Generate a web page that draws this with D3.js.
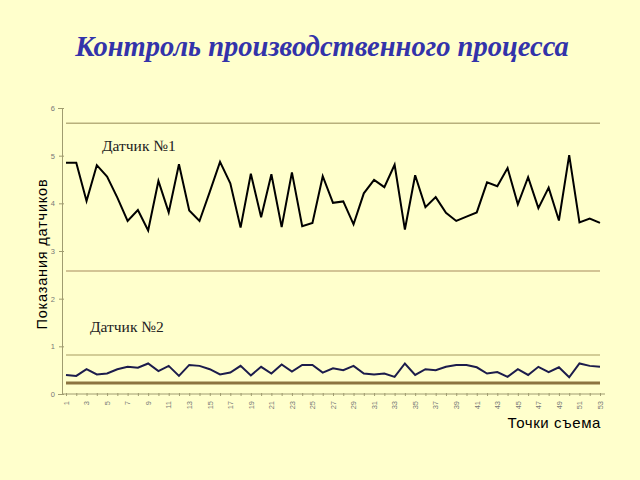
<!DOCTYPE html>
<html>
<head>
<meta charset="utf-8">
<script src="https://cdn.jsdelivr.net/npm/d3@7/dist/d3.min.js"></script>
<style>
html,body{margin:0;padding:0;background:#FFFFCC;}
svg{display:block;}
</style>
</head>
<body>
<script>
const categories = d3.range(1, 54);
const sensor1 = [4.85,4.85,4.05,4.80,4.56,4.12,3.63,3.86,3.43,4.47,3.81,4.82,3.85,3.63,4.24,4.87,4.42,3.49,4.62,3.71,4.61,3.50,4.65,3.52,3.59,4.57,4.01,4.04,3.56,4.21,4.49,4.34,4.81,3.45,4.59,3.92,4.13,3.80,3.63,3.72,3.81,4.44,4.36,4.74,3.98,4.55,3.90,4.33,3.64,5.01,3.60,3.68,3.59];
const sensor2 = [0.40,0.38,0.52,0.41,0.43,0.52,0.57,0.55,0.64,0.48,0.59,0.38,0.61,0.59,0.52,0.41,0.45,0.59,0.39,0.57,0.43,0.62,0.47,0.61,0.61,0.45,0.54,0.50,0.59,0.43,0.41,0.43,0.36,0.64,0.40,0.52,0.50,0.57,0.61,0.61,0.56,0.43,0.46,0.36,0.52,0.40,0.57,0.46,0.56,0.35,0.64,0.59,0.57];
const limits = [5.68, 2.58, 0.82, 0.23];
const yTicks = [0,1,2,3,4,5,6];
const xTickLabels = categories.filter(d => d % 2 === 1);
const title = "Контроль производственного процесса";
const yTitle = "Показания датчиков";
const xTitle = "Точки съема";
const seriesNames = ["Датчик №1", "Датчик №2"];

const W = 640, H = 480;
const svg = d3.select("body").append("svg").attr("width", W).attr("height", H);
svg.append("rect").attr("width", W).attr("height", H).attr("fill", "#FFFFCC");

const x = d3.scalePoint().domain(categories).range([66, 600]);
const y = d3.scaleLinear().domain([0, 6]).range([394, 108]);

svg.append("text").attr("x", 322).attr("y", 56).attr("text-anchor", "middle")
  .attr("font-family", "Liberation Serif, Times New Roman, serif")
  .attr("font-style", "italic").attr("font-weight", "bold").attr("font-size", 28.5)
  .attr("fill", "#3333AA").text(title);

// limit lines
const limStyle = [
  {c:"#B8B07C", w:1.5},
  {c:"#A88A5C", w:1.2},
  {c:"#C4BC84", w:1.5},
  {c:"#8C7440", w:3}
];
svg.selectAll(".lim").data(limits).enter().append("line")
  .attr("x1", x(1)).attr("x2", x(53))
  .attr("y1", d => y(d)).attr("y2", d => y(d))
  .attr("stroke", (d,i) => limStyle[i].c).attr("stroke-width", (d,i) => limStyle[i].w);

// axes
const axisColor = "#A09C70";
const yAxis = svg.append("g").attr("transform", "translate(62,0)")
  .call(d3.axisLeft(y).tickValues(yTicks).tickSize(4).tickFormat(d3.format("d")));
yAxis.select(".domain").attr("stroke", axisColor);
yAxis.selectAll(".tick line").attr("stroke", axisColor).attr("x2", 2).attr("x1", -3);
yAxis.selectAll(".tick text").attr("fill", "#777").attr("font-size", 7.5)
  .attr("font-family", "Liberation Sans, Arial, sans-serif").attr("x", -7);

const xAxis = svg.append("g").attr("transform", "translate(0,394)")
  .call(d3.axisBottom(x).tickValues(categories).tickSize(3).tickFormat(""));
xAxis.select(".domain").attr("stroke", axisColor).attr("d", "M62,0H605");
xAxis.selectAll(".tick line").attr("stroke", axisColor).attr("y1", -1).attr("y2", 2);

svg.append("g").selectAll("text").data(xTickLabels).enter().append("text")
  .attr("transform", d => `translate(${x(d)+2.8},401) rotate(-90)`)
  .attr("text-anchor", "end").attr("font-size", 7.5).attr("fill", "#777")
  .attr("font-family", "Liberation Sans, Arial, sans-serif").text(d => d);

// lines
const line = d3.line().x((d,i) => x(categories[i])).y(d => y(d));
svg.append("path").datum(sensor1).attr("d", line).attr("fill", "none")
  .attr("stroke", "#000").attr("stroke-width", 2).attr("stroke-linejoin", "miter");
svg.append("path").datum(sensor2).attr("d", line).attr("fill", "none")
  .attr("stroke", "#1C1C4C").attr("stroke-width", 2);

// series labels
svg.append("text").attr("x", 102).attr("y", 151)
  .attr("font-family", "Liberation Serif, Times New Roman, serif").attr("font-size", 15.5)
  .attr("fill", "#222").text(seriesNames[0]);
svg.append("text").attr("x", 90).attr("y", 332)
  .attr("font-family", "Liberation Serif, Times New Roman, serif").attr("font-size", 15.5)
  .attr("fill", "#222").text(seriesNames[1]);

// axis titles
svg.append("text").attr("transform", "translate(47,254) rotate(-90)")
  .attr("text-anchor", "middle").attr("font-family", "Liberation Sans, Arial, sans-serif")
  .attr("font-size", 14.5).attr("letter-spacing", 0.8).attr("fill", "#000").text(yTitle);
svg.append("text").attr("x", 601).attr("y", 428).attr("text-anchor", "end")
  .attr("font-family", "Liberation Sans, Arial, sans-serif")
  .attr("font-size", 15).attr("letter-spacing", 0.6).attr("fill", "#000").text(xTitle);
</script>
</body>
</html>
